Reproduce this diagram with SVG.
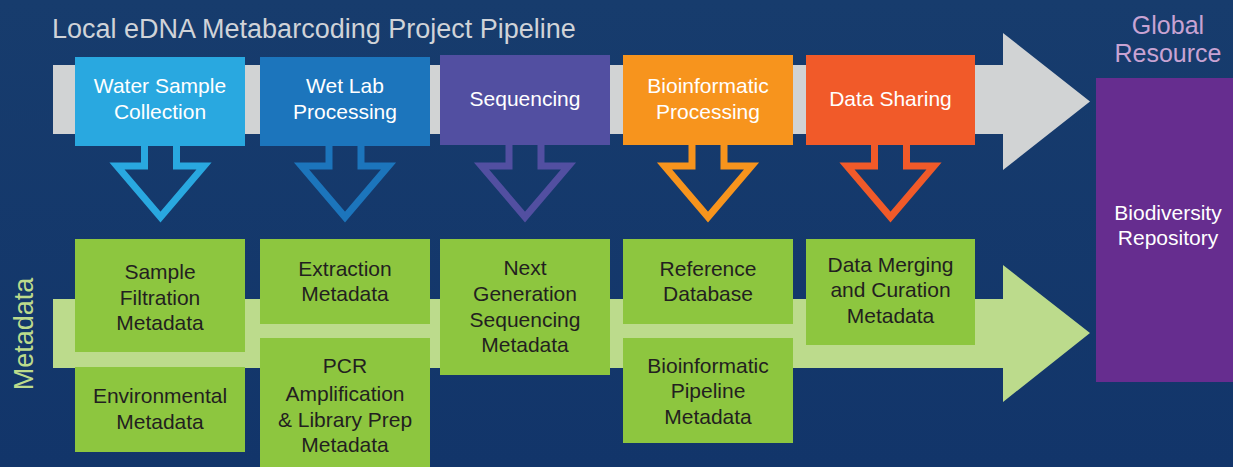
<svg xmlns="http://www.w3.org/2000/svg" width="1233" height="467" viewBox="0 0 1233 467">
<defs>
<linearGradient id="bg" x1="0" y1="0" x2="0" y2="1">
<stop offset="0" stop-color="#173c6d"/>
<stop offset="1" stop-color="#12356a"/>
</linearGradient>
<style>
text{font-family:"Liberation Sans",Arial,sans-serif;text-anchor:middle}
.w{fill:#ffffff;font-size:21px}
.d{fill:#231f20;font-size:21px}
.g{fill:#8dc63f}
.gr{font-size:25px;fill:#c8a3d3}
.ho{fill:none;stroke-width:7;stroke-linejoin:miter;stroke-miterlimit:10}
</style>
</defs>
<rect width="1233" height="467" fill="url(#bg)"/>
<text x="52" y="38" style="text-anchor:start;font-size:27px;fill:#d0d3d8">Local eDNA Metabarcoding Project Pipeline</text>
<text class="gr" x="1168" y="33.5">Global</text>
<text class="gr" x="1168" y="61.5">Resource</text>
<text transform="translate(33,334) rotate(-90)" x="0" y="0" style="font-size:27px;fill:#bcdb8c">Metadata</text>

<g id="connectors">
<polygon points="53,65 1003,65 1003,33 1090,101.5 1003,170 1003,134 53,134" fill="#d1d3d4"/>
<polygon points="53,299 1003,299 1003,265 1090,333 1003,402 1003,368 53,368" fill="#bcdb8c"/>
<path class="ho" stroke="#29a8e0" d="M144.5,140 V166 H117 L160.5,217 L204,166 H176.5 V140"/>
<path class="ho" stroke="#1c75bc" d="M329,140 V166 H301.5 L345,217 L388.5,166 H361 V140"/>
<path class="ho" stroke="#524fa1" d="M509,140 V166 H481.5 L525,217 L568.5,166 H541 V140"/>
<path class="ho" stroke="#f7941d" d="M692,140 V166 H664.5 L708,217 L751.5,166 H724 V140"/>
<path class="ho" stroke="#f15a29" d="M874.5,140 V166 H847 L890.5,217 L934,166 H906.5 V140"/>
</g>

<g id="water">
<rect x="75" y="57" width="170" height="89" fill="#29a8e0"/>
<text class="w" x="160" y="93">Water Sample</text>
<text class="w" x="160" y="119">Collection</text>
</g>
<g id="wetlab">
<rect x="260" y="57" width="170" height="89" fill="#1c75bc"/>
<text class="w" x="345" y="93">Wet Lab</text>
<text class="w" x="345" y="119">Processing</text>
</g>
<g id="sequencing">
<rect x="440" y="55" width="170" height="90" fill="#524fa1"/>
<text class="w" x="525" y="106">Sequencing</text>
</g>
<g id="bioinformatic">
<rect x="623" y="55" width="170" height="90" fill="#f7941d"/>
<text class="w" x="708" y="93">Bioinformatic</text>
<text class="w" x="708" y="119">Processing</text>
</g>
<g id="datasharing">
<rect x="806" y="55" width="169" height="90" fill="#f15a29"/>
<text class="w" x="890.5" y="106">Data Sharing</text>
</g>
<g id="repository">
<rect x="1096" y="78" width="137" height="304" fill="#662d8f"/>
<text class="w" x="1168" y="220">Biodiversity</text>
<text class="w" x="1168" y="245">Repository</text>
</g>

<g id="sample-filtration">
<rect class="g" x="75" y="239" width="170" height="113"/>
<text class="d" x="160" y="279">Sample</text>
<text class="d" x="160" y="305">Filtration</text>
<text class="d" x="160" y="330">Metadata</text>
</g>
<g id="environmental">
<rect class="g" x="75" y="367" width="170" height="85"/>
<text class="d" x="160" y="403">Environmental</text>
<text class="d" x="160" y="429">Metadata</text>
</g>
<g id="extraction">
<rect class="g" x="260" y="239" width="170" height="85"/>
<text class="d" x="345" y="276">Extraction</text>
<text class="d" x="345" y="301">Metadata</text>
</g>
<g id="pcr">
<rect class="g" x="260" y="338" width="170" height="129"/>
<text class="d" x="345" y="373">PCR</text>
<text class="d" x="345" y="401">Amplification</text>
<text class="d" x="345" y="427">&amp; Library Prep</text>
<text class="d" x="345" y="452">Metadata</text>
</g>
<g id="ngs">
<rect class="g" x="440" y="239" width="170" height="136"/>
<text class="d" x="525" y="275">Next</text>
<text class="d" x="525" y="301">Generation</text>
<text class="d" x="525" y="327">Sequencing</text>
<text class="d" x="525" y="352">Metadata</text>
</g>
<g id="reference">
<rect class="g" x="623" y="239" width="170" height="85"/>
<text class="d" x="708" y="276">Reference</text>
<text class="d" x="708" y="301">Database</text>
</g>
<g id="pipeline">
<rect class="g" x="623" y="338" width="170" height="105"/>
<text class="d" x="708" y="373">Bioinformatic</text>
<text class="d" x="708" y="398">Pipeline</text>
<text class="d" x="708" y="424">Metadata</text>
</g>
<g id="merging">
<rect class="g" x="806" y="239" width="169" height="106"/>
<text class="d" x="890.5" y="272">Data Merging</text>
<text class="d" x="890.5" y="297">and Curation</text>
<text class="d" x="890.5" y="323">Metadata</text>
</g>
</svg>
